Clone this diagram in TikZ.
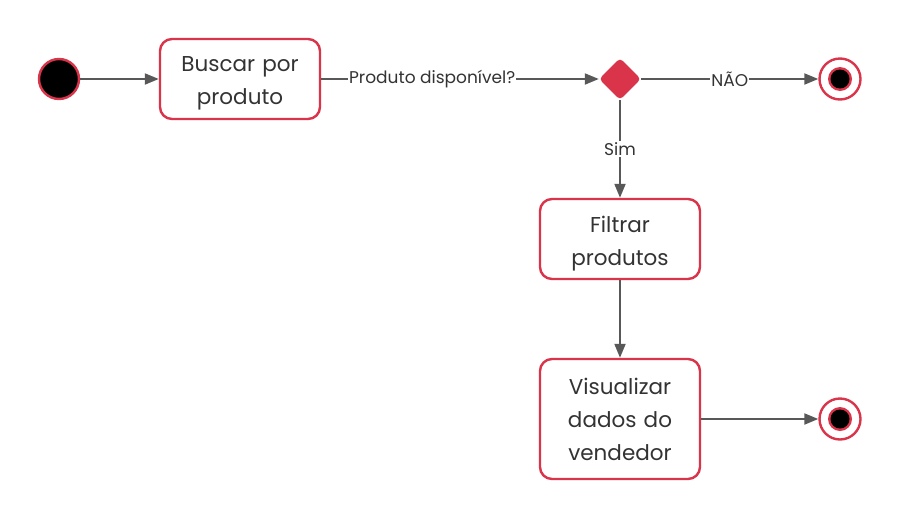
\documentclass[tikz,border=0pt]{standalone}
\usepackage{fontspec}
\setmainfont{Poppins}
\usetikzlibrary{positioning, arrows.meta, shapes.geometric}
\definecolor{umlred}{HTML}{D9344A}
\definecolor{linegray}{HTML}{585858}
\definecolor{txtgray}{HTML}{333333}

\begin{document}
\begin{tikzpicture}[x=1pt,y=-1pt,on grid,
  activity/.style={draw=umlred,line width=2.4pt,rounded corners=12pt,fill=white,
    minimum width=160pt,text width=150pt,align=center,text=txtgray,
    font=\fontsize{21.5}{33}\selectfont},
  twolines/.style={activity,minimum height=80pt,text depth=29pt},
  initial/.style={circle,draw=umlred,line width=2.4pt,fill=black,minimum size=40pt,inner sep=0pt},
  final/.style={circle,draw=umlred,line width=2.4pt,fill=white,minimum size=41pt,inner sep=0pt,
    path picture={\fill[umlred] (path picture bounding box.center) circle (12pt);
                  \fill[black] (path picture bounding box.center) circle (9.5pt);}},
  decision/.style={diamond,aspect=1,fill=umlred,rounded corners=4pt,minimum size=42pt,inner sep=0pt},
  flow/.style={draw=linegray,line width=2pt,-{Triangle[length=14pt,width=11pt]}},
  guard/.style={fill=white,inner sep=1pt,text=txtgray,font=\fontsize{17}{19}\selectfont}]
\useasboundingbox (0,0) rectangle (900,520);

\node[initial] (start) at (59,79) {};
\node[twolines] (buscar) [right=181pt of start] {Buscar por\\produto};
\node[decision] (disp) [right=380pt of buscar] {};
\node[final] (fim1) [right=220pt of disp] {};
\node[twolines] (filtrar) [below=160pt of disp] {Filtrar\\produtos};
\node[activity,minimum height=120pt] (visual) [below=180pt of filtrar] {Visualizar\\dados do\\vendedor};
\node[final] (fim2) [right=220pt of visual] {};

\draw[flow] (start) -- (buscar);
\draw[flow] (buscar) -- node[guard,pos=0.4] {Produto disponível?} (disp);
\draw[flow] (disp) -- node[guard] {NÃO} (fim1);
\draw[flow] (disp) -- node[guard] {Sim} (filtrar);
\draw[flow] (filtrar) -- (visual);
\draw[flow] (visual) -- (fim2);
\end{tikzpicture}
\end{document}
